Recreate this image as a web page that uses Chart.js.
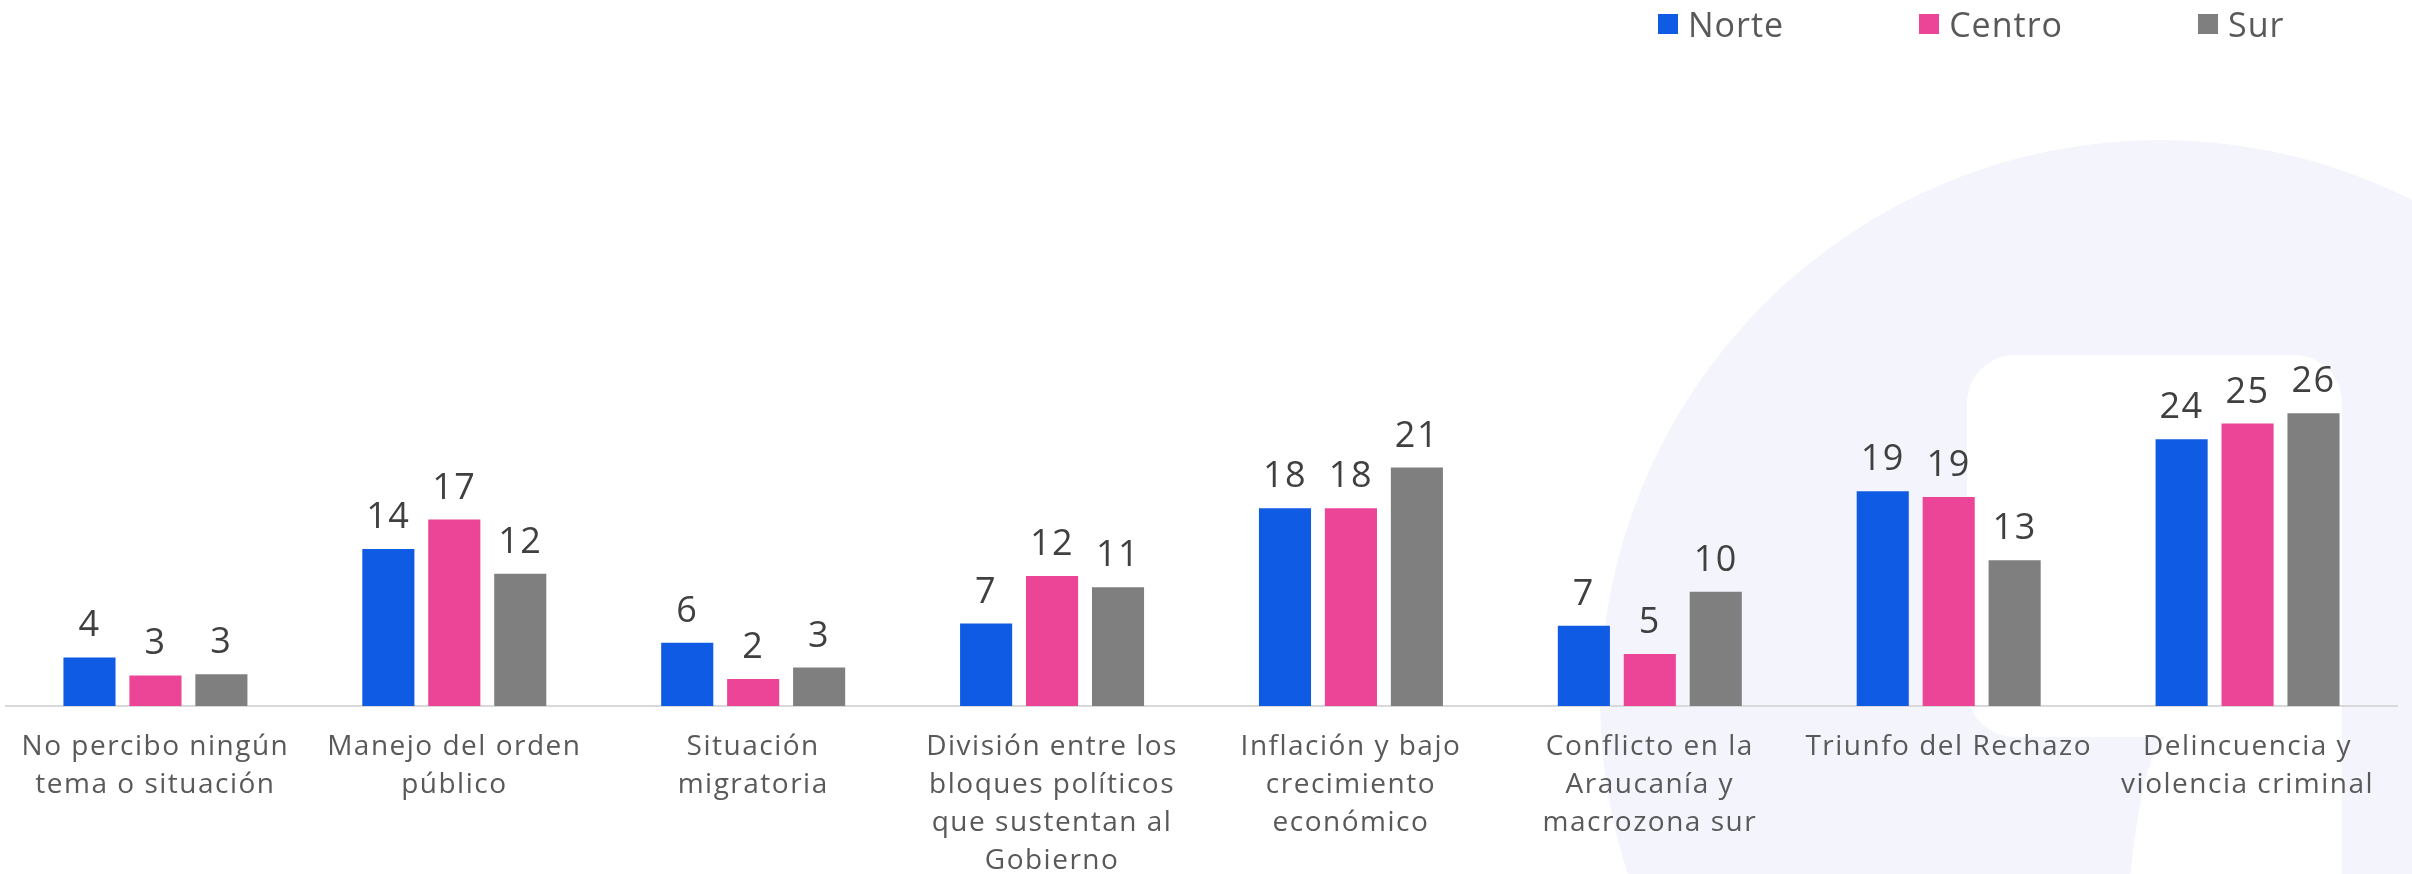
<!DOCTYPE html>
<html lang="es">
<head>
<meta charset="utf-8">
<title>Temas por zona</title>
<script src="https://cdn.jsdelivr.net/npm/chart.js@4.4.1/dist/chart.umd.min.js"></script>
<style>
  html, body { margin: 0; padding: 0; background: #fff; }
  #contenedor { position: relative; width: 2412px; height: 874px; overflow: hidden; }
  #grafico { position: absolute; left: 0; top: 0; }
  #leyenda { position: absolute; top: 1px; left: 1658px; display: flex; gap: 135px; z-index: 2; }
  .item { display: flex; align-items: center; font: 34px 'Open Sans', sans-serif; color: #595959; letter-spacing: 1px; }
  .caja { width: 20px; height: 20px; margin-right: 10px; }
</style>
</head>
<body>
<div id="contenedor">
  <div id="leyenda"></div>
  <canvas id="grafico" width="2412" height="874"></canvas>
</div>
<script>
const categorias = [
  ['No percibo ningún', 'tema o situación'],
  ['Manejo del orden', 'público'],
  ['Situación', 'migratoria'],
  ['División entre los', 'bloques políticos', 'que sustentan al', 'Gobierno'],
  ['Inflación y bajo', 'crecimiento', 'económico'],
  ['Conflicto en la', 'Araucanía y', 'macrozona sur'],
  ['Triunfo del Rechazo'],
  ['Delincuencia y', 'violencia criminal']
];
const series = ['Norte', 'Centro', 'Sur'];
const norte = [4.3, 13.9, 5.6, 7.3, 17.5, 7.1, 19.0, 23.6];
const centro = [2.7, 16.5, 2.4, 11.5, 17.5, 4.6, 18.5, 25.0];
const sur = [2.8, 11.7, 3.4, 10.5, 21.1, 10.1, 12.9, 25.9];
const colores = ['#105BE3', '#EC4497', '#7F7F7F'];

// leyenda en html
const leyenda = document.getElementById('leyenda');
series.forEach((nombre, i) => {
    const item = document.createElement('div');
    item.className = 'item';
    item.innerHTML = '<span class="caja" style="background:' + colores[i] + '"></span>' + nombre;
    leyenda.appendChild(item);
});

// logo de fondo + espaciado de letras
const fondo = {
    id: 'fondo',
    beforeDraw(chart) {
        const ctx = chart.ctx;
        ctx.letterSpacing = '1.5px';
        ctx.save();
        ctx.fillStyle = '#F4F5FC';
        ctx.beginPath();
        ctx.arc(2160, 700, 560, 0, Math.PI * 2);
        ctx.fill();
        ctx.fillStyle = '#FFFFFF';
        const r = 48;
        ctx.beginPath();
        ctx.moveTo(1967 + r, 355);
        ctx.lineTo(2342 - r, 355);
        ctx.arcTo(2342, 355, 2342, 355 + r, r);
        ctx.lineTo(2342, 900);
        ctx.lineTo(2128, 900);
        ctx.quadraticCurveTo(2140, 760, 2165, 737);
        ctx.lineTo(1967 + r, 737);
        ctx.arcTo(1967, 737, 1967, 737 - r, r);
        ctx.lineTo(1967, 355 + r);
        ctx.arcTo(1967, 355, 1967 + r, 355, r);
        ctx.closePath();
        ctx.fill();
        ctx.restore();
    }
};

const etiquetasValor = {
    id: 'etiquetasValor',
    afterDatasetsDraw(chart) {
        const ctx = chart.ctx;
        ctx.save();
        ctx.font = '36px "Open Sans"';
        ctx.fillStyle = '#404040';
        ctx.textAlign = 'center';
        ctx.textBaseline = 'alphabetic';
        chart.data.datasets.forEach((ds, i) => {
            chart.getDatasetMeta(i).data.forEach((barra, j) => {
                ctx.fillText(String(Math.round(ds.data[j])), barra.x, barra.y - 21);
            });
        });
        ctx.restore();
    }
};

const datos = [norte, centro, sur];

let config = {
    type: 'bar',
    data: {
        labels: categorias,
        datasets: series.map((nombre, i) => ({
            label: nombre,
            data: datos[i],
            backgroundColor: colores[i],
            borderWidth: 0,
            categoryPercentage: 0.662,
            barPercentage: 0.79
        }))
    },
    options: {
        responsive: false,
        animation: false,
        layout: { padding: { left: 6, right: 15, top: 367, bottom: 0 } },
        plugins: {
            legend: { display: false },
            tooltip: { enabled: false }
        },
        scales: {
            x: {
                grid: { display: false, drawTicks: false },
                border: { color: '#D9D9D9', width: 2 },
                ticks: {
                    color: '#595959',
                    font: { family: 'Open Sans', size: 28, lineHeight: 38 / 28 },
                    padding: 22,
                    maxRotation: 0,
                    autoSkip: false
                },
                afterFit: escala => { escala.height = 168; }
            },
            y: {
                display: false,
                min: 0,
                max: 30
            }
        }
    },
    plugins: [fondo, etiquetasValor]
};

let ctx = document.getElementById('grafico').getContext('2d');
window.grafico = new Chart(ctx, config);
</script>
</body>
</html>
